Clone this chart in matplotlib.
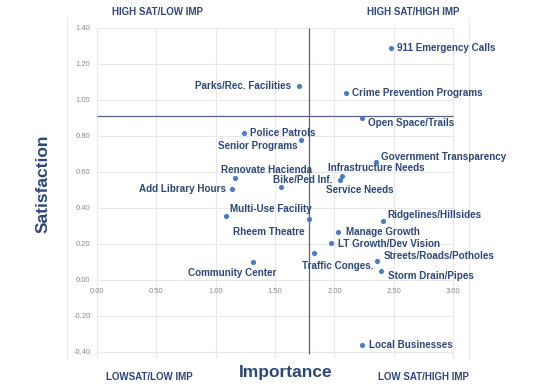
import matplotlib

matplotlib.use("Agg")
import matplotlib.pyplot as plt
import numpy as np

# data
names = ["911 Emergency Calls", "Crime Prevention Programs", "Parks/Rec. Facilities",
         "Open Space/Trails", "Police Patrols", "Senior Programs",
         "Government Transparency", "Infrastructure Needs", "Service Needs",
         "Renovate Hacienda", "Add Library Hours", "Bike/Ped Inf.",
         "Multi-Use Facility", "Rheem Theatre", "Ridgelines/Hillsides",
         "Manage Growth", "LT Growth/Dev Vision", "Traffic Conges.",
         "Streets/Roads/Potholes", "Storm Drain/Pipes", "Community Center",
         "Local Businesses"]
importance = [2.48, 2.10, 1.70, 2.23, 1.24, 1.72, 2.35, 2.06, 2.05, 1.16, 1.14, 1.55,
              1.09, 1.79, 2.41, 2.03, 1.97, 1.83, 2.36, 2.39, 1.31, 2.23]
satisfaction = [1.29, 1.04, 1.08, 0.90, 0.82, 0.78, 0.66, 0.58, 0.56, 0.57, 0.51, 0.52,
                0.36, 0.34, 0.33, 0.27, 0.21, 0.15, 0.11, 0.05, 0.10, -0.36]
mean_imp = 1.79
mean_sat = 0.914

quadrants = ["HIGH SAT/LOW IMP", "HIGH SAT/HIGH IMP", "LOWSAT/LOW IMP", "LOW SAT/HIGH IMP"]

# label placement (pixel offset from dot, alignment)
label_pos = {
    "911 Emergency Calls": (6, 0, "left"),
    "Crime Prevention Programs": (6, 0, "left"),
    "Parks/Rec. Facilities": (-8, 0, "right"),
    "Open Space/Trails": (6, -5, "left"),
    "Police Patrols": (6, 0, "left"),
    "Senior Programs": (-4, -6, "right"),
    "Government Transparency": (5, 5, "left"),
    "Infrastructure Needs": (-14, 8, "left"),
    "Service Needs": (-14, -10, "left"),
    "Renovate Hacienda": (-14, 8, "left"),
    "Add Library Hours": (-6, 0, "right"),
    "Bike/Ped Inf.": (-8, 7, "left"),
    "Multi-Use Facility": (4, 7, "left"),
    "Rheem Theatre": (-5, -13, "right"),
    "Ridgelines/Hillsides": (4, 6, "left"),
    "Manage Growth": (8, 0, "left"),
    "LT Growth/Dev Vision": (7, -1, "left"),
    "Traffic Conges.": (-12, -13, "left"),
    "Streets/Roads/Potholes": (7, 5, "left"),
    "Storm Drain/Pipes": (7, -5, "left"),
    "Community Center": (-65, -11, "left"),
    "Local Businesses": (7, 0, "left"),
}

navy = "#2d4878"
dot = "#4a7dc6"
grid = "#e8e8e8"
W, H = 550, 386
plt.rcParams["font.family"] = ["Liberation Sans", "DejaVu Sans"]

fig = plt.figure(figsize=(W / 100, H / 100), dpi=100)
# plot frame spans roughly px 67..469 x 17..359
ax = fig.add_axes([67 / W, 1 - 359 / H, (469 - 67) / W, (359 - 17) / H])
ax.set_xlim(-0.253, 3.134)
ax.set_ylim(-0.437, 1.463)
for s in ["top", "bottom"]:
    ax.spines[s].set_visible(False)
for s in ["left", "right"]:
    ax.spines[s].set_color("#ececec")
    ax.spines[s].set_linewidth(0.8)
ax.set_xticks([])
ax.set_yticks([])

yt = np.round(np.arange(-0.4, 1.41, 0.2), 2)
xt = np.round(np.arange(0, 3.01, 0.5), 2)
ax.hlines(yt, 0, 3, color=grid, lw=0.8, zorder=0)
ax.vlines(xt, -0.437, 1.4, color=grid, lw=0.8, zorder=0)
for v in yt:
    ax.text(-0.055, v, f"{v:.2f}", ha="right", va="center", fontsize=5.5, color="#8c8c8c")
for v in xt:
    ax.text(v, -0.06, f"{v:.2f}", ha="center", va="center", fontsize=5.5, color="#8c8c8c")

# quadrant lines
ax.hlines(mean_sat, 0, 3, color="#56627f", lw=0.9, zorder=1)
ax.vlines(mean_imp, -0.41, 1.4, color="#56627f", lw=0.9, zorder=1)

ax.scatter(importance, satisfaction, s=14, color=dot, zorder=3, linewidths=0)
for n, x, y in zip(names, importance, satisfaction):
    dx, dy, ha = label_pos[n]
    ax.annotate(n, (x, y), xytext=(dx, dy), textcoords="offset pixels",
                ha=ha, va="center", fontsize=7.1, fontweight="bold", color=navy)

qpos = [(158, 12), (413, 12), (149, 377), (423, 377)]
for q, (px, py) in zip(quadrants, qpos):
    fig.text(px / W, 1 - py / H, q, ha="center", va="center", fontsize=7,
             fontweight="bold", color=navy)

fig.text(286 / W, 1 - 372 / H, "Importance", ha="center", va="center",
         fontsize=12.5, fontweight="bold", color=navy)
fig.text(43 / W, 1 - 184 / H, "Satisfaction", ha="center", va="center",
         rotation=90, fontsize=12.5, fontweight="bold", color=navy)

fig.savefig("out.png", dpi=100, facecolor="white")
